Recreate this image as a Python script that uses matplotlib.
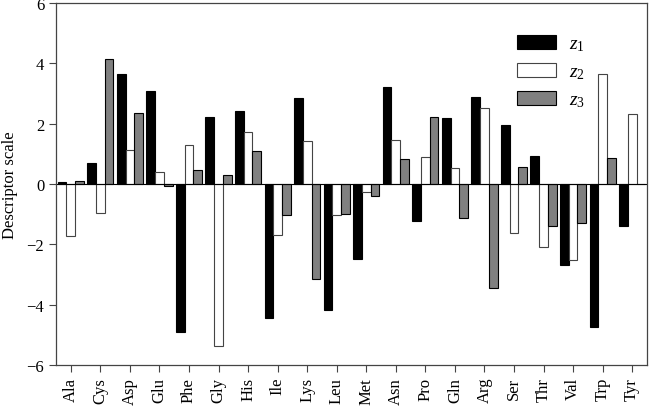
import numpy as np
import matplotlib.pyplot as plt

plt.rcParams['font.family'] = ['Liberation Serif', 'DejaVu Serif']
plt.rcParams['mathtext.fontset'] = 'custom'
plt.rcParams['mathtext.it'] = 'Liberation Serif:italic'
plt.rcParams['mathtext.rm'] = 'Liberation Serif'

amino = ['Ala', 'Cys', 'Asp', 'Glu', 'Phe', 'Gly', 'His', 'Ile', 'Lys', 'Leu',
         'Met', 'Asn', 'Pro', 'Gln', 'Arg', 'Ser', 'Thr', 'Val', 'Trp', 'Tyr']
z1 = [0.07, 0.71, 3.64, 3.08, -4.92, 2.23, 2.41, -4.44, 2.84, -4.19,
      -2.49, 3.22, -1.22, 2.18, 2.88, 1.96, 0.92, -2.69, -4.75, -1.39]
z2 = [-1.73, -0.97, 1.13, 0.39, 1.30, -5.36, 1.74, -1.68, 1.41, -1.03,
      -0.27, 1.45, 0.88, 0.53, 2.52, -1.63, -2.09, -2.53, 3.65, 2.32]
z3 = [0.09, 4.13, 2.36, -0.07, 0.45, 0.30, 1.11, -1.03, -3.14, -0.98,
      -0.41, 0.84, 2.23, -1.14, -3.44, 0.57, -1.40, -1.29, 0.85, 0.01]

x = np.arange(len(amino))
w = 0.295

fig = plt.figure(figsize=(6.52, 4.14), dpi=100)
ax = fig.add_axes([56 / 652, 48 / 414, 591 / 652, 362 / 414])

ax.bar(x - w, z1, w, color='black', edgecolor='black', linewidth=0.8, label='$z_1$')
ax.bar(x, z2, w, color='white', edgecolor='#444444', linewidth=0.8, label='$z_2$')
ax.bar(x + w, z3, w, color='#808080', edgecolor='black', linewidth=0.8, label='$z_3$')
ax.axhline(0, color='black', linewidth=0.8)

ax.set_xlim(-0.5, len(amino) - 0.5)
ax.set_ylim(-6, 6)
ax.set_yticks([-6, -4, -2, 0, 2, 4, 6])
ax.set_yticklabels(['\u22126', '\u22124', '\u22122', '0', '2', '4', '6'])
ax.set_xticks(x)
ax.set_xticklabels(amino, rotation=90)
ax.tick_params(direction='out', length=5, width=0.8, color='#444444', labelsize=12)
ax.set_ylabel('Descriptor scale', fontsize=12, labelpad=6)
for s in ax.spines.values():
    s.set_color('#444444')
    s.set_linewidth(0.9)

ax.legend(loc='upper right', bbox_to_anchor=(0.925, 0.96), frameon=False, fontsize=14,
          handlelength=2.0, handleheight=0.7, labelspacing=0.5, handletextpad=0.7)

plt.savefig('out.png', dpi=100)
